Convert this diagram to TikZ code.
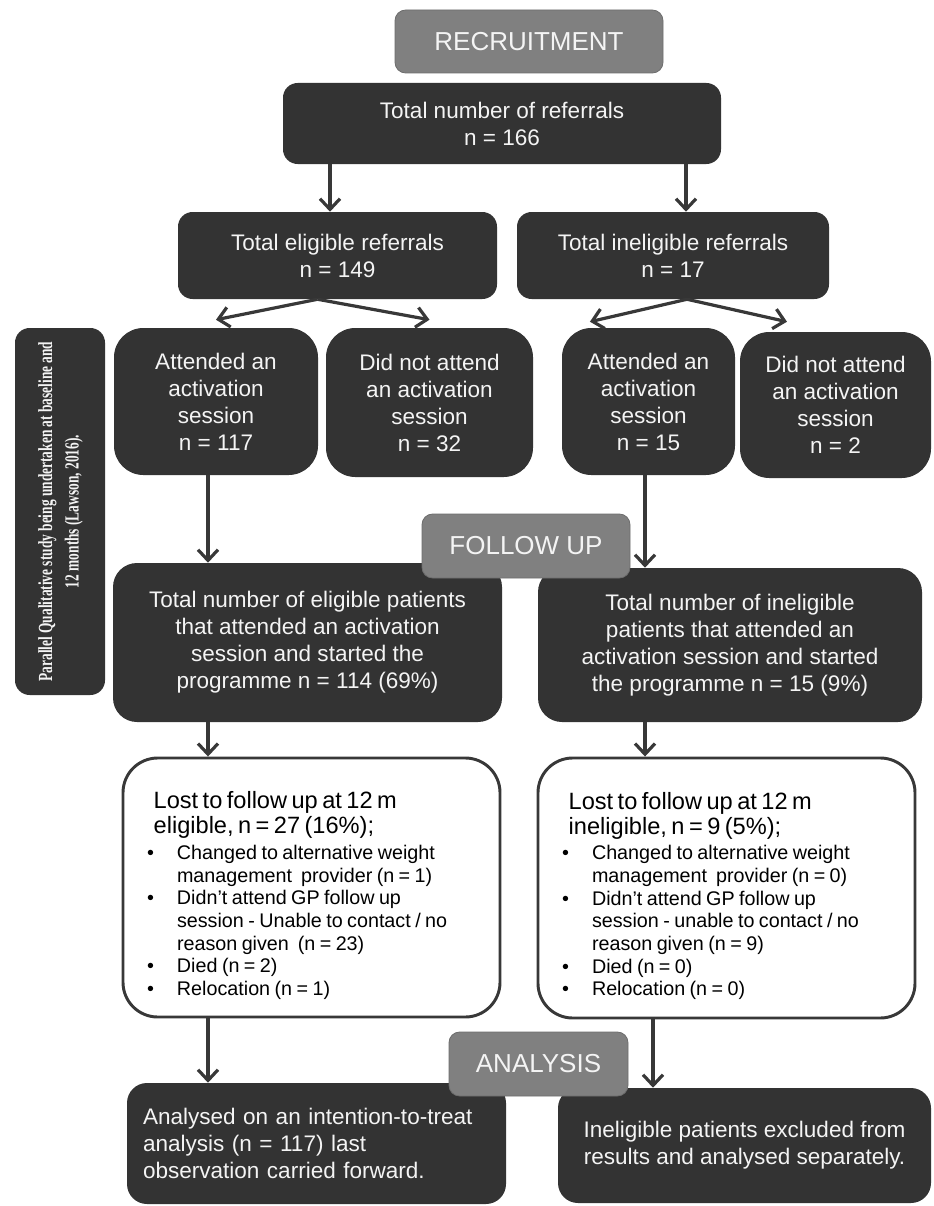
\documentclass[tikz,border=0pt]{standalone}
\usepackage{fontspec}
\usepackage{graphicx}
\setmainfont{Liberation Sans}
\newfontfamily\sidefont{Liberation Serif}
\usetikzlibrary{arrows.meta}
\definecolor{boxdark}{HTML}{333333}
\definecolor{boxgrey}{HTML}{808080}
\definecolor{boxtext}{HTML}{F4F4F4}
\definecolor{linedark}{HTML}{383838}
\newcommand{\bodyfont}{\fontsize{16.9pt}{20.25pt}\selectfont}
\newcommand{\stagefont}{\fontsize{19.5pt}{22pt}\selectfont}
\newcommand{\headfont}{\fontsize{17.7pt}{18.75pt}\selectfont}
\newcommand{\itemfont}{\fontsize{14.8pt}{17pt}\selectfont}
\newcommand{\lostitem}[1]{\par\hangindent=22.5pt\hangafter=1\noindent\makebox[22.5pt][l]{\textbullet}#1}
\tikzset{
  darkbox/.style={fill=boxdark, text=boxtext, rounded corners=11pt, align=center, font=\bodyfont, inner sep=0pt},
  stagebox/.style={fill=boxgrey, draw=boxgrey!85!black, line width=0.6pt, text=boxtext, rounded corners=8pt, font=\stagefont, inner sep=0pt},
  lostbox/.style={draw=linedark, line width=2.2pt, fill=white, rounded corners=26pt, text width=246.75pt, inner xsep=18pt, inner ysep=0pt, align=left},
  arr/.style={draw=linedark, line width=2.4pt, -{Straight Barb[length=8pt,width=15pt]}},
}
\begin{document}
\begin{tikzpicture}[x=0.75pt,y=-0.75pt]
\useasboundingbox (0,0) rectangle (933,1206);
\coordinate (c1) at (330,0);
\coordinate (c2) at (686,0);
\coordinate (c3) at (208,0);
\coordinate (c4) at (645,0);
\coordinate (c5) at (653,0);

\node[darkbox, minimum width=328.5pt, minimum height=60.75pt] (total) at (502,123.5) {Total number of referrals\\n = 166};
\node[darkbox, minimum width=239.25pt, minimum height=65.25pt] (elig) at (337.5,255.5) {Total eligible referrals\\n = 149};
\node[darkbox, minimum width=234pt, minimum height=65.25pt] (inelig) at (673,255.5) {Total ineligible referrals\\n = 17};
\node[darkbox, rounded corners=22pt, minimum width=153pt, minimum height=110.25pt] (attE) at (216,401.5) {Attended an\\activation\\session\\n = 117};
\node[darkbox, rounded corners=22pt, minimum width=155.25pt, minimum height=111.75pt] (dnaE) at (429.5,402.5) {Did not attend\\an activation\\session\\n = 32};
\node[darkbox, rounded corners=22pt, minimum width=129.75pt, minimum height=110.25pt] (attI) at (648.5,401.5) {Attended an\\activation\\session\\n = 15};
\node[darkbox, rounded corners=22pt, minimum width=143.25pt, minimum height=109.5pt] (dnaI) at (835.5,405) {Did not attend\\an activation\\session\\n = 2};
\node[darkbox, rotate=90, font=\sidefont\bfseries\fontsize{15pt}{20pt}\selectfont, minimum width=275.25pt, minimum height=67.5pt] (side) at (60,511.5) {\scalebox{0.67}[1]{\begin{tabular}{@{}c@{}}Parallel Qualitative study being undertaken at baseline and\\12 months (Lawson, 2016).\end{tabular}}};
\node[darkbox, rounded corners=18pt, minimum width=291.75pt, minimum height=119.25pt] (startE) at (307.5,642.5) {Total number of eligible patients\\that attended an activation\\session and started the\\programme n = 114 (69\%)};
\node[darkbox, rounded corners=18pt, minimum width=288pt, minimum height=115.5pt] (startI) at (730,645) {Total number of ineligible\\patients that attended an\\activation session and started\\the programme n = 15 (9\%)};
\node[lostbox, minimum height=194.25pt] (lostE) at (311.5,887.5) {{\headfont\leftskip=5pt\rule{0pt}{25pt}Lost to follow up at 12 m\newline eligible, n = 27 (16\%);\par}\vspace{2.25pt}\itemfont
  \lostitem{Changed to alternative weight\newline management\ \ provider (n = 1)}
  \lostitem{Didn’t attend GP follow up\newline session - Unable to contact / no\newline reason given\ \ (n = 23)}
  \lostitem{Died (n = 2)}
  \lostitem{Relocation (n = 1)}\par};
\node[lostbox, minimum height=195pt] (lostI) at (726.5,888) {{\headfont\leftskip=5pt\rule{0pt}{25pt}Lost to follow up at 12 m\newline ineligible, n = 9 (5\%);\par}\vspace{2.25pt}\itemfont
  \lostitem{Changed to alternative weight\newline management\ \ provider (n = 0)}
  \lostitem{Didn’t attend GP follow up\newline session - unable to contact / no\newline reason given (n = 9)}
  \lostitem{Died (n = 0)}
  \lostitem{Relocation (n = 0)}\par};
\node[darkbox, align=left, text width=260.25pt, inner xsep=12pt, rounded corners=15pt, minimum height=90.75pt] (itt) at (316.5,1143.5) {Analysed on an intention-to-treat\\analysis (n = 117) last\\observation carried forward.};
\node[darkbox, rounded corners=15pt, minimum width=279.75pt, minimum height=86.25pt] (excl) at (744.5,1145.5) {Ineligible patients excluded from\\results and analysed separately.};

\draw[arr] (total.south -| c1) -- (elig.north -| c1);
\draw[arr] (total.south -| c2) -- (inelig.north -| c2);
\draw[arr] ([xshift=-15pt]elig.south) -- ([yshift=6pt]attE.north);
\draw[arr] ([xshift=-15pt]elig.south) -- ([yshift=6pt]dnaE.north);
\draw[arr] ([xshift=10.5pt]inelig.south) -- ([xshift=-43.9pt,yshift=4.5pt]attI.north);
\draw[arr] ([xshift=10.5pt]inelig.south) -- ([xshift=-36.4pt,yshift=7.5pt]dnaI.north);
\draw[arr] (attE.south -| c3) -- (startE.north -| c3);
\draw[arr] (attI.south -| c4) -- (startI.north -| c4);
\draw[arr] (startE.south -| c3) -- (lostE.north -| c3);
\draw[arr] (startI.south -| c4) -- (lostI.north -| c4);
\draw[arr] (lostE.south -| c3) -- (itt.north -| c3);
\draw[arr] (lostI.south -| c5) -- (excl.north -| c5);

\node[stagebox, minimum width=201pt, minimum height=47.25pt] (recruit) at (529,41.5) {RECRUITMENT};
\node[stagebox, minimum width=156pt, minimum height=48pt] (follow) at (526,546) {FOLLOW UP};
\node[stagebox, minimum width=134.25pt, minimum height=48pt] (analysis) at (538.5,1064) {ANALYSIS};
\end{tikzpicture}
\end{document}
